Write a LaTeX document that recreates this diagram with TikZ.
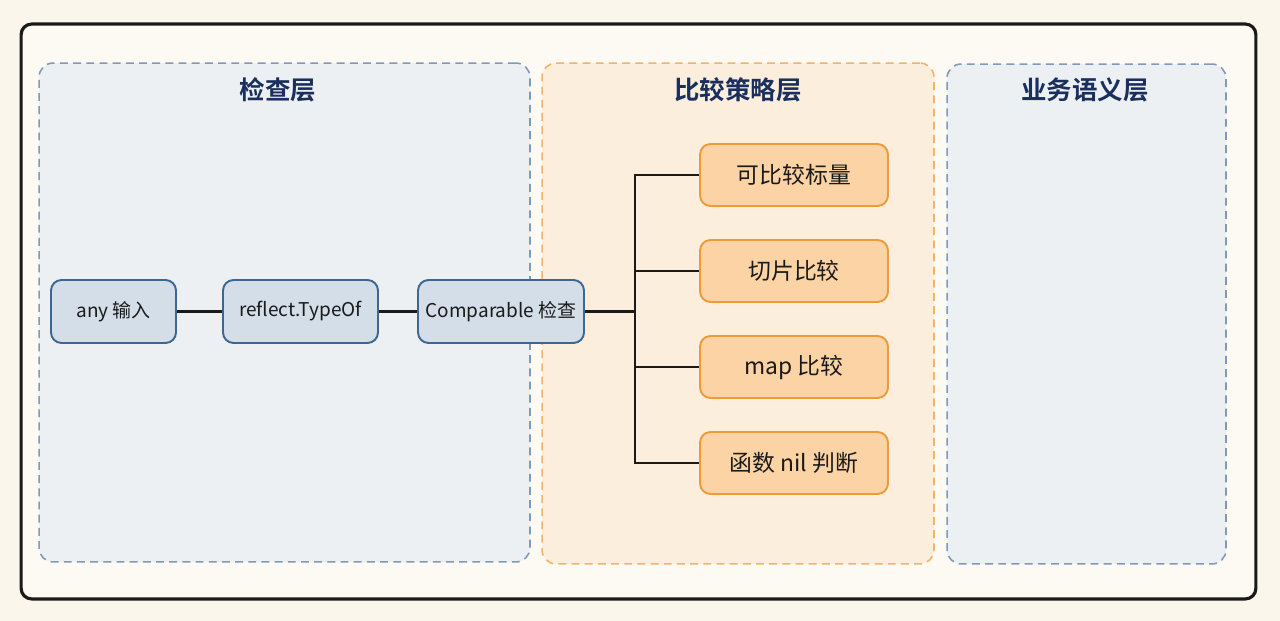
\documentclass[tikz,border=0pt]{standalone}
\usepackage{fontspec}
\setmainfont{Noto Sans CJK SC}
\newfontfamily\titlefont{Noto Sans CJK SC Bold}
\usepackage{xcolor}
\usepackage{tikz}
\usetikzlibrary{arrows.meta,backgrounds,calc,positioning}
\definecolor{paper}{HTML}{FAF6EC}
\definecolor{sheet}{HTML}{FDFAF3}
\definecolor{navy}{HTML}{1B2F5E}
\definecolor{ink}{HTML}{1A1A1A}
\definecolor{checkfill}{HTML}{EDF0F2}
\definecolor{checkline}{HTML}{7F9AB9}
\definecolor{stratfill}{HTML}{FCEEDD}
\definecolor{stratline}{HTML}{F2B46A}
\definecolor{stepblue}{HTML}{D3DEE9}
\definecolor{stepblueline}{HTML}{3C6790}
\definecolor{steporange}{HTML}{FCD3A4}
\definecolor{steporangeline}{HTML}{EE9A3A}
\tikzset{
  link/.style={draw=ink,line width=1.3pt},
  frame/.style={draw=ink,line width=1.8pt,rounded corners=6pt,fill=sheet},
  layer/.style={dashed,dash pattern=on 4.5pt off 3pt,line width=.9pt,rounded corners=8pt},
  checklayer/.style={layer,draw=checkline,fill=checkfill},
  stratlayer/.style={layer,draw=stratline,fill=stratfill},
  layertitle/.style={font=\titlefont\fontsize{14.5}{16}\selectfont,text=navy},
  stepbox/.style={line width=1.1pt,rounded corners=6pt,align=center,
                  minimum height=1.26cm,inner sep=2pt,text=ink,
                  font=\fontsize{10.8}{13}\selectfont},
  bluestep/.style={stepbox,draw=stepblueline,fill=stepblue},
  orangestep/.style={stepbox,draw=steporangeline,fill=steporange,minimum width=3.76cm,
                     minimum height=1.24cm,font=\fontsize{13}{15}\selectfont}
}
\begin{document}
\begin{tikzpicture}[x=0.02cm,y=-0.02cm]
  \useasboundingbox[fill=paper] (0,0) rectangle (1280,621);
  % Frame and layers
  \node[frame,minimum width=24.7cm,minimum height=11.5cm] (sheet) at (638.5,311.5) {};
  \node[checklayer,minimum width=9.82cm,minimum height=9.98cm] (check) at (284.5,312.5) {};
  \node[stratlayer,minimum width=7.84cm,minimum height=10.02cm] (strat) at (738,313.5) {};
  \node[checklayer,minimum width=5.58cm,minimum height=10cm] (biz) at (1086.5,314) {};
  \node[layertitle] (checktitle) at (278,90) {检查层};
  \node[layertitle] (strattitle) at (738,90) {比较策略层};
  \node[layertitle] (biztitle) at (1085,90) {业务语义层};

  % Check chain
  \node[bluestep,minimum width=2.5cm] (anyin) at (113.5,311.5) {any 输入};
  \node[bluestep,minimum width=3.1cm] (typeof) at (300.5,311.5) {reflect.TypeOf};
  \node[bluestep,minimum width=3.32cm] (cmp) at (501,311.5) {Comparable 检查};

  % Strategies
  \node[orangestep] (scalar) at (794,175) {可比较标量};
  \node[orangestep] (slice) at (794,271) {切片比较};
  \node[orangestep] (mapcmp) at (794,367) {map 比较};
  \node[orangestep] (funcnil) at (794,463) {函数 nil 判断};

  \coordinate (bus) at (635,311.5);
  \draw[link] (anyin)--(typeof);
  \draw[link] (typeof)--(cmp);
  \draw[link] (cmp)--(bus);
  \draw[link] (scalar.west) -| (bus) |- (funcnil.west);
  \foreach \n in {slice,mapcmp}
    \draw[link] (bus|-\n.west)--(\n.west);
\end{tikzpicture}
\end{document}
